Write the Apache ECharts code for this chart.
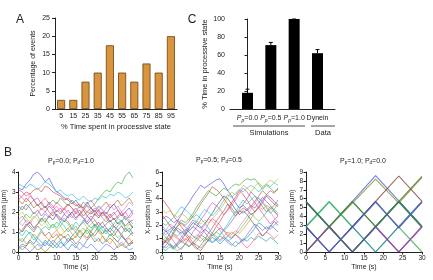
<!DOCTYPE html>
<html>
<head>
<meta charset="utf-8">
<script src="https://cdn.jsdelivr.net/npm/echarts@6/dist/echarts.min.js"></script>
<style>
html, body { margin: 0; padding: 0; background: #fff; }
#main { width: 433px; height: 280px; }
</style>
</head>
<body>
<div id="main"></div>
<script>
var font = '"Liberation Sans", Arial, sans-serif';
var ink = '#222';

// panel A: distribution of time spent processive
var processiveBins = ['5', '15', '25', '35', '45', '55', '65', '75', '85', '95'];
var eventPercent = [2.5, 2.5, 7.5, 10, 17.5, 10, 7.5, 12.5, 10, 20];

// panel C: simulations vs data
var groupNames = ['P_p=0.0', 'P_p=0.5', 'P_p=1.0', 'Dynein'];
var groupPos = [0, 1, 2, 3];
var processivePct = [18, 71, 100, 62];
var processiveTop = [22, 74, 100, 66];

// panel B: x-position traces (um), sampled every second
var secs = [0, 1, 2, 3, 4, 5, 6, 7, 8, 9, 10, 11, 12, 13, 14, 15, 16, 17, 18, 19, 20, 21, 22, 23, 24, 25, 26, 27, 28, 29, 30];

var diffusiveTraces = [
    [3.2,3.1,3.4,3.6,3.9,4.0,3.8,3.5,3.7,3.3,3.0,2.9,2.7,2.6,2.4,2.6,2.3,2.2,2.5,2.2,2.0,2.3,2.1,1.9,2.2,2.4,2.1,1.8,2.0,2.2,1.9],
    [2.0,2.3,2.1,2.4,2.6,2.3,2.5,2.2,2.4,2.6,2.4,2.7,2.5,2.3,2.6,2.4,2.2,2.5,2.3,2.2,2.4,2.7,2.9,3.1,3.0,3.3,3.5,3.4,3.8,4.0,3.7],
    [2.6,2.8,3.0,2.9,3.1,3.2,3.0,3.3,3.2,3.0,2.9,2.8,2.6,2.7,2.5,2.3,2.4,2.2,2.0,1.9,2.1,1.8,2.0,1.7,1.9,1.6,1.8,2.0,1.7,1.5,1.6],
    [3.4,3.3,3.2,3.4,3.3,3.1,3.3,3.5,3.4,3.2,3.0,3.1,2.9,2.8,2.9,2.7,2.6,2.8,2.6,2.5,2.7,2.6,2.8,2.7,2.9,2.8,3.0,2.9,2.7,2.8,3.0],
    [3.1,3.0,2.8,2.9,2.6,2.7,2.4,2.2,2.5,2.3,2.0,2.2,1.9,2.1,1.8,1.6,1.9,1.7,1.5,1.8,1.6,1.3,1.5,1.2,1.0,1.3,1.1,0.8,0.6,0.4,0.5],
    [1.8,2.0,1.7,1.5,1.8,1.6,1.3,1.5,1.2,1.4,1.1,1.3,1.0,1.2,1.4,1.1,1.3,1.5,1.2,1.4,1.6,1.3,1.5,1.7,1.4,1.2,1.5,1.3,1.1,1.4,1.2],
    [1.2,1.0,1.3,1.5,1.2,1.4,1.7,1.5,1.8,1.6,1.9,1.7,1.5,1.8,2.0,1.7,1.9,2.1,1.8,1.6,1.9,1.7,2.0,1.8,1.5,1.7,1.4,1.6,1.3,1.5,1.2],
    [0.5,0.7,0.4,0.6,0.9,0.7,1.0,0.8,0.6,0.9,1.1,0.8,1.0,1.2,0.9,0.7,1.0,0.8,0.6,0.9,0.7,0.5,0.8,0.6,0.4,0.7,0.5,0.3,0.5,0.7,0.4],
    [0.9,1.1,1.4,1.2,1.0,1.3,1.1,0.8,1.0,0.7,0.9,0.6,0.8,0.5,0.7,0.4,0.6,0.9,0.7,1.0,0.8,1.1,0.9,1.2,1.0,0.8,1.1,0.9,0.6,0.8,1.0],
    [2.3,2.1,2.4,2.2,1.9,2.1,1.8,2.0,2.3,2.1,1.8,1.6,1.9,1.7,2.0,2.2,1.9,1.7,1.4,1.6,1.3,1.5,1.2,1.4,1.6,1.3,1.1,1.3,1.0,1.2,0.9],
    [1.5,1.3,1.6,1.4,1.7,1.9,2.2,2.0,1.8,2.1,2.3,2.0,2.2,1.9,1.7,2.0,1.8,2.1,2.3,2.0,1.8,2.1,1.9,2.2,2.4,2.1,2.3,2.0,2.2,2.5,2.3],
    [0.2,0.4,0.3,0.6,0.4,0.7,0.5,0.3,0.6,0.4,0.2,0.5,0.3,0.1,0.4,0.2,0.5,0.3,0.6,0.8,0.5,0.7,0.4,0.6,0.9,0.7,0.5,0.8,0.6,0.3,0.5],
    [0.7,0.5,0.8,1.0,0.8,0.5,0.3,0.6,0.4,0.2,0.4,0.6,0.3,0.5,0.8,1.0,0.7,0.9,1.1,0.8,1.0,1.3,1.1,0.9,1.2,1.0,1.3,1.5,1.2,1.0,1.3],
    [2.6,2.4,2.7,2.5,2.2,2.4,2.1,2.3,2.0,1.8,2.1,1.9,2.2,2.4,2.2,1.9,2.1,1.8,2.0,2.2,1.9,2.1,2.3,2.5,2.2,2.4,2.6,2.3,2.5,2.7,2.4],
    [0.1,0.3,0.2,0.0,0.2,0.4,0.2,0.5,0.3,0.6,0.4,0.2,0.4,0.7,0.5,0.3,0.1,0.3,0.2,0.4,0.2,0.0,0.2,0.4,0.3,0.1,0.3,0.5,0.3,0.1,0.2],
    [1.4,1.6,1.9,1.7,2.0,1.8,1.5,1.7,1.4,1.2,1.5,1.3,1.6,1.4,1.1,1.3,1.0,1.2,0.9,1.1,1.4,1.2,0.9,1.1,0.8,1.0,0.7,0.9,1.2,1.0,0.8],
    [2.9,2.7,2.5,2.8,2.6,2.3,2.5,2.7,2.4,2.2,2.5,2.3,2.1,2.4,2.2,2.0,2.3,2.1,2.4,2.6,2.3,2.1,1.8,2.0,1.7,1.9,2.1,1.8,2.0,1.7,1.9],
    [1.0,0.8,1.1,0.9,0.6,0.8,1.1,1.3,1.1,1.4,1.2,1.5,1.3,1.0,1.2,1.5,1.3,1.6,1.4,1.2,1.4,1.1,1.3,1.0,1.2,1.4,1.7,1.5,1.8,1.6,1.4],
    [0.3,0.1,0.3,0.5,0.3,0.1,0.2,0.0,0.2,0.4,0.7,0.9,0.7,0.9,0.6,0.8,1.1,0.9,1.2,1.0,1.3,1.0,0.8,0.5,0.7,0.5,0.2,0.4,0.2,0.4,0.6],
    [1.6,1.8,1.5,1.3,1.1,1.4,1.6,1.9,1.7,2.0,1.8,1.5,1.7,1.5,1.2,1.0,1.3,1.5,1.8,2.0,2.2,2.0,1.7,1.5,1.8,2.0,1.7,1.9,1.6,1.8,2.1]
];

var mixedTraces = [
    [0.4,0.9,1.4,1.8,2.3,2.8,3.3,3.7,4.2,4.6,5.0,4.8,5.0,5.2,5.4,5.5,5.1,4.6,4.2,3.7,3.3,3.5,3.2,2.8,3.0,3.4,3.9,4.3,4.1,3.8,3.5],
    [1.0,0.8,1.1,1.5,2.0,2.4,2.2,2.5,2.9,3.4,3.8,4.2,4.6,4.4,4.2,4.5,4.8,4.6,4.9,5.1,5.0,5.3,5.5,5.4,5.5,5.1,4.7,5.0,4.8,4.5,4.7],
    [4.0,3.6,3.2,2.7,2.3,1.9,1.5,1.1,0.7,0.3,0.1,0.5,0.9,1.4,1.9,2.3,2.8,3.2,3.7,4.1,4.6,4.3,3.9,3.4,3.0,3.3,3.7,4.2,3.9,3.6,3.4],
    [1.5,1.3,1.6,1.4,1.2,1.5,1.3,1.6,1.9,2.3,2.8,3.2,3.0,2.7,3.0,3.4,3.9,4.3,4.1,4.4,4.7,4.5,4.8,5.0,4.8,4.5,4.8,5.1,4.9,5.2,5.0],
    [2.0,1.6,1.2,0.8,0.4,0.2,0.6,1.0,1.5,1.9,2.4,2.8,3.3,3.7,3.5,3.2,2.8,3.1,3.5,3.9,4.4,4.8,4.5,4.1,3.7,3.3,2.9,2.5,2.1,2.4,2.7],
    [3.2,2.9,3.1,2.8,2.6,2.9,2.7,2.4,2.6,2.3,2.1,2.4,2.2,2.5,2.8,3.2,3.6,4.1,4.5,4.3,4.6,5.0,4.8,4.5,4.9,5.2,4.9,5.1,5.4,5.2,5.5],
    [0.6,0.8,0.5,0.3,0.6,0.9,1.3,1.8,2.2,2.0,1.8,2.1,2.5,2.9,3.4,3.8,4.2,4.0,3.6,3.2,2.8,3.1,2.8,2.4,2.0,1.6,1.2,1.5,1.9,2.3,2.0],
    [0.8,1.1,0.9,1.2,1.0,0.7,0.9,1.2,1.0,1.3,1.1,0.8,1.1,1.4,1.2,0.9,1.2,1.5,1.3,1.6,1.4,1.7,2.1,2.5,3.0,3.4,3.2,3.5,3.3,3.0,2.8],
    [0.2,0.5,0.9,1.4,1.8,1.6,1.3,0.9,0.5,0.2,0.5,0.9,1.4,1.8,2.3,2.7,3.1,3.6,3.3,2.9,3.2,3.6,4.0,4.5,4.2,3.8,3.4,3.0,3.2,3.5,3.9],
    [2.4,2.7,2.5,2.2,2.4,2.1,1.9,1.6,1.9,1.7,1.4,1.7,1.5,1.2,1.5,1.8,1.6,1.9,2.3,2.7,3.1,2.9,3.2,3.5,3.3,3.7,4.1,3.8,3.5,3.1,2.7],
    [1.2,1.6,2.1,1.9,1.6,1.2,0.8,0.4,0.7,1.1,1.6,2.0,2.5,2.3,2.0,1.6,1.2,0.8,1.0,1.4,1.9,2.3,2.7,3.2,3.6,4.1,3.8,3.4,3.0,2.6,2.2],
    [1.8,1.5,1.7,1.9,1.6,1.4,1.7,1.5,1.2,1.0,1.3,1.1,0.8,1.1,0.9,0.6,0.9,1.2,1.0,1.3,1.1,0.8,1.1,1.4,1.8,2.2,2.0,1.7,2.0,1.8,1.5],
    [0.3,0.1,0.4,0.2,0.5,0.8,0.6,0.4,0.7,0.5,0.3,0.6,0.9,0.7,1.0,0.8,1.1,0.9,0.6,0.4,0.7,1.0,0.8,1.1,0.9,1.2,1.0,0.8,1.1,0.9,0.6],
    [2.8,2.4,2.0,1.6,1.9,2.2,2.0,2.3,2.7,3.1,3.6,4.0,4.4,4.9,4.7,4.4,4.0,3.6,3.1,2.7,3.0,3.3,3.1,3.4,3.8,4.2,4.6,4.3,4.6,4.4,4.8],
    [0.5,0.3,0.6,0.4,0.7,1.1,1.5,2.0,2.4,2.2,1.9,1.5,1.1,0.7,0.9,1.2,1.0,0.7,0.5,0.8,0.6,0.9,1.3,1.7,2.1,1.9,1.6,1.9,1.7,2.0,2.3],
    [1.4,1.1,0.7,0.3,0.1,0.3,0.6,0.4,0.7,1.0,0.8,1.1,0.9,1.2,1.5,1.3,1.6,1.4,1.1,1.3,1.6,2.0,2.4,2.9,2.6,2.3,2.6,3.0,3.4,3.2,3.6],
    [0.9,0.7,1.0,1.3,1.1,0.8,1.0,0.8,0.5,0.8,1.2,1.6,2.1,2.5,2.3,2.0,1.6,1.2,1.5,1.3,1.0,0.6,0.3,0.6,1.0,1.4,1.2,1.5,1.3,1.0,1.3],
    [2.2,2.0,2.3,2.6,3.0,3.4,3.2,2.9,2.6,2.8,2.5,2.2,1.8,1.4,1.0,1.3,1.7,2.1,2.6,3.0,3.5,3.9,3.6,3.9,4.2,4.0,3.7,3.3,2.9,3.2,2.9]
];

// fully processive traces only turn every 6 s
var turnSecs = [0, 6, 12, 18, 24, 30];
var processiveTraces = [
    [0, 2.85, 5.7, 8.6, 5.75, 2.9],
    [0.1, 2.8, 5.5, 8.2, 5.5, 8.4],
    [2.9, 5.7, 2.85, 0, 2.85, 5.7],
    [2.85, 0, 2.85, 5.7, 8.55, 5.7],
    [5.7, 2.85, 0, 2.85, 5.7, 2.85],
    [0, 2.85, 0, 2.85, 5.7, 2.85],
    [0, 2.85, 5.65, 2.85, 5.7, 2.85],
    [2.85, 0, 2.85, 0, 2.85, 5.7],
    [5.6, 2.8, 0, 2.8, 0, 2.8],
    [2.8, 5.6, 2.8, 5.6, 2.8, 0],
    [0, 2.9, 0, 2.9, 0, 2.9],
    [2.85, 0, 2.85, 5.7, 2.7, 5.6],
    [5.7, 2.85, 5.7, 2.85, 5.7, 8.5],
    [2.75, 0.05, 2.75, 5.6, 2.8, 5.65],
    [5.65, 2.8, 0.05, 2.8, 5.6, 2.75]
];

var traceColors = ['#3d3dd8', '#2a9d2a', '#d62a2a', '#20b8c8', '#c23cc2', '#b8b820', '#404040', '#f07f10',
                   '#8c564b', '#7f3fbf', '#e070c0', '#1f77b4', '#00a080', '#a05020', '#6060ff', '#40c040',
                   '#ff4080', '#00c0c0', '#808000', '#9467bd'];
var latticeColors = ['#5a6ad8', '#8a9a30', '#30b0b0', '#7a4a40', '#2f6f4f', '#7a3a9a', '#3aa04a', '#3a8a8a',
                     '#5a3aa0', '#40b050', '#a040a0', '#2a3a9a', '#4a7a3a', '#6a6ad0', '#2a8060'];

function subLabel(txt) {
    // 'P_p=0.0' -> italic P with subscript p
    var m = txt.match(/^P_(\w)(=.*)$/);
    if (!m) return '{n|' + txt + '}';
    return '{i|P}{s|' + m[1] + '}{n|' + m[2] + '}';
}

function axisLine() {
    return { show: true, lineStyle: { color: ink, width: 1 } };
}

function traceSeries(traces, times, axisIdx, width, colors) {
    return traces.map(function (tr, i) {
        return {
            type: 'line',
            xAxisIndex: axisIdx,
            yAxisIndex: axisIdx,
            data: times.map(function (t, j) { return [t, tr[j]]; }),
            showSymbol: false,
            symbol: 'none',
            silent: true,
            lineStyle: { width: width, color: colors[i % colors.length], opacity: 0.85 }
        };
    });
}

function traceXAxis(gi) {
    return {
        gridIndex: gi, type: 'value', min: 0, max: 30, interval: 5,
        name: 'Time (s)', nameLocation: 'middle', nameGap: 12,
        nameTextStyle: { fontFamily: font, fontSize: 7, color: ink },
        axisLine: axisLine(),
        axisTick: { show: true, length: 2.5, lineStyle: { color: ink } },
        axisLabel: { fontFamily: font, fontSize: 6.5, color: ink, margin: 3 },
        splitLine: { show: false }
    };
}

function traceYAxis(gi, max, gap) {
    return {
        gridIndex: gi, type: 'value', min: 0, max: max, interval: 1,
        name: 'X-position (\u00b5m)', nameLocation: 'middle', nameGap: gap,
        nameTextStyle: { fontFamily: font, fontSize: 6.5, color: ink },
        axisLine: axisLine(),
        axisTick: { show: true, length: 2.5, lineStyle: { color: ink } },
        axisLabel: { fontFamily: font, fontSize: 6.5, color: ink, margin: 3 },
        splitLine: { show: false }
    };
}

function panelTitle(x, y, pp, pd) {
    return {
        type: 'text', x: x, y: y, silent: true,
        style: {
            text: 'P{s|p}=' + pp + '; P{s|d}=' + pd,
            fontFamily: font, fontSize: 7, fill: ink,
            align: 'center', verticalAlign: 'middle',
            rich: { s: { fontSize: 4.5, fontFamily: font, fill: ink, padding: [4, 0, 0, 0] } }
        }
    };
}

function letter(x, y, t) {
    return {
        type: 'text', x: x, y: y, silent: true,
        style: { text: t, fontFamily: font, fontSize: 12, fill: ink, align: 'center', verticalAlign: 'middle' }
    };
}

var chart = echarts.init(document.getElementById('main'), null, { renderer: 'canvas' });

var option = {
    animation: false,
    backgroundColor: '#fff',
    grid: [
        { left: 55, right: 256, top: 18, bottom: 171 },
        { left: 230, right: 98, top: 19, bottom: 171 },
        { left: 17, right: 300, top: 172, bottom: 28 },
        { left: 162, right: 155, top: 172, bottom: 28 },
        { left: 306, right: 11, top: 172, bottom: 28 }
    ],
    xAxis: [
        {
            gridIndex: 0, type: 'category', data: processiveBins,
            name: '% Time spent in processive state', nameLocation: 'middle', nameGap: 14,
            nameTextStyle: { fontFamily: font, fontSize: 7.5, color: ink },
            axisLine: axisLine(),
            axisTick: { show: false },
            axisLabel: { fontFamily: font, fontSize: 7, color: ink, margin: 4, interval: 0 }
        },
        {
            gridIndex: 1, type: 'value', min: -0.75, max: 3.75,
            axisLine: axisLine(),
            axisTick: { show: false },
            splitLine: { show: false },
            axisLabel: {
                customValues: groupPos,
                hideOverlap: false,
                fontFamily: font, fontSize: 7, color: ink, margin: 4,
                formatter: function (v) { return subLabel(groupNames[groupPos.indexOf(v)]); },
                rich: {
                    n: { fontFamily: font, fontSize: 7, color: ink, lineHeight: 11, padding: [0, 0, 0, 0] },
                    i: { fontFamily: font, fontSize: 7, fontStyle: 'italic', color: ink, lineHeight: 11 },
                    s: { fontFamily: font, fontSize: 5, fontStyle: 'italic', color: ink, lineHeight: 11, padding: [4, 0, 0, 0] }
                }
            }
        },
        traceXAxis(2),
        traceXAxis(3),
        traceXAxis(4)
    ],
    yAxis: [
        {
            gridIndex: 0, type: 'value', min: 0, max: 25, interval: 5,
            name: 'Percentage of events', nameLocation: 'middle', nameGap: 18,
            nameTextStyle: { fontFamily: font, fontSize: 7, color: ink },
            axisLine: axisLine(),
            axisTick: { show: true, length: 3, lineStyle: { color: ink } },
            axisLabel: { fontFamily: font, fontSize: 7, color: ink, margin: 5 },
            splitLine: { show: false }
        },
        {
            gridIndex: 1, type: 'value', min: 0, max: 100, interval: 20,
            name: '% Time in processive state', nameLocation: 'middle', nameGap: 19,
            nameTextStyle: { fontFamily: font, fontSize: 7.5, color: ink },
            axisLine: axisLine(),
            axisTick: { show: true, length: 3, lineStyle: { color: ink } },
            axisLabel: { fontFamily: font, fontSize: 7, color: ink, margin: 5 },
            splitLine: { show: false }
        },
        traceYAxis(2, 4, 9),
        traceYAxis(3, 6, 8),
        traceYAxis(4, 9, 9)
    ],
    series: [
        {
            type: 'bar', xAxisIndex: 0, yAxisIndex: 0,
            data: eventPercent, barWidth: 8, silent: true,
            itemStyle: { color: '#d9953e', borderColor: '#6b4012', borderWidth: 0.8 }
        },
        {
            type: 'bar', xAxisIndex: 1, yAxisIndex: 1, silent: true,
            data: groupPos.map(function (p, i) { return [p, processivePct[i]]; }),
            barWidth: 11,
            itemStyle: { color: '#000' }
        },
        {
            type: 'custom', xAxisIndex: 1, yAxisIndex: 1, silent: true,
            data: groupPos.map(function (p, i) { return [p, processivePct[i], processiveTop[i]]; }),
            renderItem: function (params, api) {
                var base = api.coord([api.value(0), api.value(1)]);
                var top = api.coord([api.value(0), api.value(2)]);
                return {
                    type: 'group',
                    children: [
                        { type: 'line', shape: { x1: base[0], y1: base[1], x2: top[0], y2: top[1] }, style: { stroke: '#000', lineWidth: 1 } },
                        { type: 'line', shape: { x1: top[0] - 2, y1: top[1], x2: top[0] + 2, y2: top[1] }, style: { stroke: '#000', lineWidth: 1 } }
                    ]
                };
            }
        }
    ]
        .concat(traceSeries(diffusiveTraces, secs, 2, 0.7, traceColors))
        .concat(traceSeries(mixedTraces, secs, 3, 0.7, traceColors))
        .concat(traceSeries(processiveTraces, turnSecs, 4, 1.1, latticeColors)),
    graphic: [
        letter(20, 20, 'A'),
        letter(192, 20, 'C'),
        letter(8, 153, 'B'),
        panelTitle(71, 161, '0.0', '1.0'),
        panelTitle(219, 160, '0.5', '0.5'),
        panelTitle(363, 161, '1.0', '0.0'),
        { type: 'line', silent: true, shape: { x1: 233, y1: 126, x2: 305, y2: 126 }, style: { stroke: ink, lineWidth: 0.8 } },
        { type: 'line', silent: true, shape: { x1: 311, y1: 126, x2: 335, y2: 126 }, style: { stroke: ink, lineWidth: 0.8 } },
        { type: 'text', x: 269, y: 133, silent: true, style: { text: 'Simulations', fontFamily: font, fontSize: 7.5, fill: ink, align: 'center', verticalAlign: 'middle' } },
        { type: 'text', x: 323, y: 133, silent: true, style: { text: 'Data', fontFamily: font, fontSize: 7.5, fill: ink, align: 'center', verticalAlign: 'middle' } }
    ]
};

chart.setOption(option);
</script>
</body>
</html>
